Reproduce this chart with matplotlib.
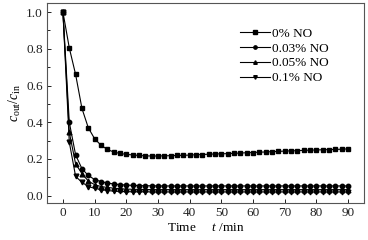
import matplotlib
matplotlib.use("Agg")
import matplotlib.pyplot as plt
from matplotlib.ticker import MultipleLocator
import numpy as np

plt.rcParams['font.family'] = ['Liberation Serif', 'DejaVu Serif']
plt.rcParams['mathtext.fontset'] = 'custom'
plt.rcParams['mathtext.rm'] = 'Liberation Serif'
plt.rcParams['mathtext.it'] = 'Liberation Serif:italic'

t = list(range(0, 91, 2))

no_0 = [1.0, 0.805, 0.66, 0.475, 0.37, 0.31, 0.275, 0.252, 0.238, 0.23,
        0.225, 0.222, 0.219, 0.217, 0.216, 0.216, 0.217, 0.218, 0.219, 0.22,
        0.221, 0.223, 0.224, 0.226, 0.227, 0.228, 0.229, 0.231, 0.232, 0.234,
        0.235, 0.237, 0.238, 0.240, 0.241, 0.243, 0.244, 0.245, 0.247, 0.248,
        0.249, 0.250, 0.251, 0.252, 0.253, 0.255]
no_003 = [1.0, 0.40, 0.222, 0.147, 0.11, 0.088, 0.077, 0.069, 0.064, 0.06,
          0.058, 0.056, 0.055, 0.054, 0.054, 0.053, 0.053, 0.053, 0.053, 0.053,
          0.053, 0.053, 0.053, 0.053, 0.053, 0.053, 0.053, 0.053, 0.053, 0.053,
          0.053, 0.053, 0.053, 0.053, 0.053, 0.053, 0.053, 0.053, 0.053, 0.053,
          0.053, 0.053, 0.053, 0.053, 0.053, 0.053]
no_005 = [1.0, 0.345, 0.173, 0.12, 0.08, 0.06, 0.05, 0.045, 0.041, 0.038,
          0.036, 0.035, 0.034, 0.034, 0.033, 0.033, 0.033, 0.033, 0.033, 0.033,
          0.033, 0.033, 0.033, 0.033, 0.033, 0.033, 0.033, 0.033, 0.033, 0.033,
          0.033, 0.033, 0.033, 0.033, 0.033, 0.033, 0.033, 0.033, 0.033, 0.033,
          0.033, 0.033, 0.033, 0.033, 0.033, 0.033]
no_01 = [1.0, 0.292, 0.105, 0.073, 0.05, 0.04, 0.033, 0.028, 0.025, 0.023,
         0.022, 0.021, 0.021, 0.021, 0.021, 0.021, 0.021, 0.021, 0.021, 0.021,
         0.021, 0.021, 0.021, 0.021, 0.021, 0.021, 0.021, 0.021, 0.021, 0.021,
         0.021, 0.021, 0.021, 0.021, 0.021, 0.021, 0.021, 0.021, 0.021, 0.021,
         0.021, 0.021, 0.021, 0.021, 0.021, 0.021]

labels = ['0% NO', '0.03% NO', '0.05% NO', '0.1% NO']
series = [no_0, no_003, no_005, no_01]
markers = ['s', 'o', '^', 'v']
msizes = [3.4, 3.2, 3.4, 3.4]

fig = plt.figure(figsize=(3.68, 2.40), dpi=100)
ax = fig.add_axes([0.128, 0.154, 0.861, 0.834])

for y, lab, m, ms in zip(series, labels, markers, msizes):
    ax.plot(t, y, color='black', lw=0.8, marker=m, markersize=ms, label=lab)

ax.set_xlim(-5, 95)
ax.set_ylim(-0.04, 1.05)
ax.xaxis.set_major_locator(MultipleLocator(10))
ax.yaxis.set_major_locator(MultipleLocator(0.2))
ax.yaxis.set_minor_locator(MultipleLocator(0.1))
ax.yaxis.set_major_formatter(matplotlib.ticker.FormatStrFormatter('%.1f'))
ax.tick_params(direction='in', labelsize=9.5, length=3, width=0.7, colors='#222222', pad=3)
ax.tick_params(which='minor', direction='in', length=2, width=0.6)
for s in ax.spines.values():
    s.set_linewidth(0.8)
    s.set_color('#555555')

ax.set_ylabel(r'$c_{\rm out}/c_{\rm in}$', fontsize=10, labelpad=2)
ax.set_xlabel(r'Time     $t$ /min', fontsize=9.5, labelpad=2)

leg = ax.legend(loc='upper left', bbox_to_anchor=(0.608, 0.877), frameon=False,
                fontsize=9.5, handlelength=2.3, handletextpad=0.15,
                labelspacing=0.2, borderaxespad=0.0, borderpad=0.0,
                markerscale=0.75)

fig.savefig('out.png', dpi=100)
